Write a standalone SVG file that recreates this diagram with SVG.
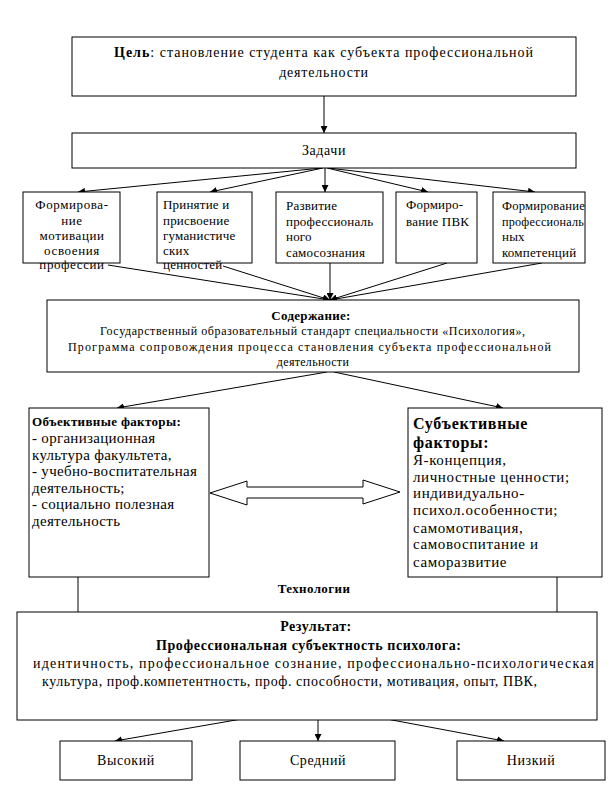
<svg xmlns="http://www.w3.org/2000/svg" width="613" height="793" viewBox="0 0 613 793">
<style>
.box{fill:#fff;stroke:#000;stroke-width:1}
.ln{stroke:#000;stroke-width:1;fill:none}
text{font-family:"Liberation Serif","Times New Roman",serif;fill:#000}
.task{font-size:13px;letter-spacing:0.2px}
.task1{font-size:13px;letter-spacing:0.6px;text-anchor:middle}
.obj{font-size:15px;letter-spacing:0.3px}
.subj{font-size:15px;letter-spacing:0.6px}
.lvl{font-size:14px;letter-spacing:0.6px;text-anchor:middle}
.b{font-weight:bold}
.c{text-anchor:middle}
</style>
<defs>
<marker id="ah" viewBox="0 0 10 10" refX="10" refY="5" markerWidth="7" markerHeight="7" markerUnits="userSpaceOnUse" orient="auto">
<path d="M0,0 L10,5 L0,10 z" fill="#000"/>
</marker>
</defs>
<rect width="613" height="793" fill="#fff"/>

<g id="connectors">
<line class="ln" x1="324" y1="96" x2="324" y2="133" marker-end="url(#ah)"/>
<line class="ln" x1="322" y1="168" x2="78" y2="192" marker-end="url(#ah)"/>
<line class="ln" x1="323" y1="168" x2="210" y2="192" marker-end="url(#ah)"/>
<line class="ln" x1="325" y1="168" x2="325" y2="192" marker-end="url(#ah)"/>
<line class="ln" x1="327" y1="168" x2="428" y2="192" marker-end="url(#ah)"/>
<line class="ln" x1="328" y1="168" x2="535" y2="192" marker-end="url(#ah)"/>
<line class="ln" x1="108" y1="265" x2="330" y2="300" marker-end="url(#ah)"/>
<line class="ln" x1="223" y1="266" x2="330" y2="300" marker-end="url(#ah)"/>
<line class="ln" x1="330" y1="263" x2="330" y2="300" marker-end="url(#ah)"/>
<line class="ln" x1="447" y1="263" x2="330" y2="300" marker-end="url(#ah)"/>
<line class="ln" x1="542" y1="263" x2="330" y2="300" marker-end="url(#ah)"/>
<line class="ln" x1="327" y1="372" x2="117" y2="408" marker-end="url(#ah)"/>
<line class="ln" x1="334" y1="372" x2="503" y2="408" marker-end="url(#ah)"/>
<polygon class="box" points="210,493 247,481 247,487 363,487 363,480 400,492 363,504 363,498 247,498 247,505"/>
<line class="ln" x1="78" y1="577" x2="78" y2="612"/>
<line class="ln" x1="557" y1="577" x2="557" y2="612"/>
<line class="ln" x1="318" y1="650" x2="318" y2="658" marker-end="url(#ah)"/>
<line class="ln" x1="318" y1="708" x2="318" y2="741" marker-end="url(#ah)"/>
<line class="ln" x1="305" y1="708" x2="115" y2="741" marker-end="url(#ah)"/>
<line class="ln" x1="328" y1="708" x2="504" y2="741" marker-end="url(#ah)"/>
</g>

<g id="goal">
<rect class="box" x="72" y="37" width="504" height="59"/>
<text font-size="14" x="114" y="57" textLength="419" lengthAdjust="spacing"><tspan class="b">Цель</tspan>: становление студента как субъекта профессиональной</text>
<text font-size="14" class="c" x="324" y="77" letter-spacing="0.8">деятельности</text>
</g>

<g id="tasks">
<rect class="box" x="72" y="133" width="504" height="35"/>
<text font-size="14" class="c" x="324" y="155" letter-spacing="0.6">Задачи</text>
</g>

<g id="task1">
<rect class="box" x="23" y="192" width="97" height="71"/>
<text class="task1" x="72" y="209">Формирова-</text>
<text class="task1" x="72" y="225">ние</text>
<text class="task1" x="72" y="240">мотивации</text>
<text class="task1" x="72" y="255">освоения</text>
<text class="task1" x="72" y="269">профессии</text>
</g>
<g id="task2">
<rect class="box" x="157" y="192" width="95" height="71"/>
<text class="task" x="163" y="209">Принятие и</text>
<text class="task" x="163" y="225">присвоение</text>
<text class="task" x="163" y="240">гуманистиче</text>
<text class="task" x="163" y="255">ских</text>
<text class="task" x="163" y="269">ценностей</text>
</g>
<g id="task3">
<rect class="box" x="276" y="192" width="107" height="71"/>
<text class="task" x="286" y="210">Развитие</text>
<text class="task" x="286" y="226">профессиональ</text>
<text class="task" x="286" y="241">ного</text>
<text class="task" x="286" y="257">самосознания</text>
</g>
<g id="task4">
<rect class="box" x="396" y="192" width="81" height="71"/>
<text class="task" x="406" y="209">Формиро-</text>
<text class="task" x="406" y="226">вание ПВК</text>
</g>
<g id="task5">
<rect class="box" x="493" y="192" width="92" height="71"/>
<text class="task" x="502" y="210" textLength="83" lengthAdjust="spacingAndGlyphs">Формирование</text>
<text class="task" x="502" y="226" textLength="82" lengthAdjust="spacingAndGlyphs">профессиональ</text>
<text class="task" x="502" y="241">ных</text>
<text class="task" x="502" y="257">компетенций</text>
</g>

<g id="content">
<rect class="box" x="47" y="300" width="532" height="72"/>
<text font-size="13" class="b c" x="311" y="320" letter-spacing="0.3">Содержание:</text>
<text font-size="12" x="100" y="335" textLength="425" lengthAdjust="spacing">Государственный образовательный стандарт специальности «Психология»,</text>
<text font-size="12" x="68" y="351" textLength="483" lengthAdjust="spacing">Программа  сопровождения  процесса становления  субъекта  профессиональной</text>
<text font-size="12" class="c" x="313" y="366" letter-spacing="0.3">деятельности</text>
</g>

<g id="objective">
<rect class="box" x="29" y="408" width="180" height="169"/>
<text font-size="13" class="b" x="32" y="426" letter-spacing="0.35">Объективные факторы:</text>
<text class="obj" x="32" y="443">- организационная</text>
<text class="obj" x="32" y="459.5">культура факультета,</text>
<text class="obj" x="32" y="476">- учебно-воспитательная</text>
<text class="obj" x="32" y="492.5">деятельность;</text>
<text class="obj" x="32" y="509">- социально полезная</text>
<text class="obj" x="32" y="526">деятельность</text>
</g>

<g id="subjective">
<rect class="box" x="408" y="408" width="194" height="169"/>
<text font-size="16" class="b" x="413" y="429" letter-spacing="0.7">Субъективные</text>
<text font-size="16" class="b" x="413" y="448" letter-spacing="0.7">факторы:</text>
<text class="subj" x="413" y="465">Я-концепция,</text>
<text class="subj" x="413" y="482">личностные ценности;</text>
<text class="subj" x="413" y="498">индивидуально-</text>
<text class="subj" x="413" y="515">психол.особенности;</text>
<text class="subj" x="413" y="533">самомотивация,</text>
<text class="subj" x="413" y="549">самовоспитание и</text>
<text class="subj" x="413" y="567">саморазвитие</text>
</g>

<g id="technologies">
<text font-size="13" class="b c" x="314" y="593" letter-spacing="0.4">Технологии</text>
</g>

<g id="result">
<rect class="box" x="17" y="612" width="580" height="108"/>
<text font-size="14" class="b c" x="316" y="631" letter-spacing="0.5">Результат:</text>
<text font-size="14" class="b" x="156" y="650" textLength="305" lengthAdjust="spacing">Профессиональная субъектность психолога:</text>
<text font-size="14" x="33" y="668" textLength="561" lengthAdjust="spacing">идентичность, профессиональное сознание, профессионально-психологическая</text>
<text font-size="14" x="42" y="686" textLength="495" lengthAdjust="spacing">культура, проф.компетентность,  проф. способности, мотивация, опыт, ПВК,</text>
</g>

<g id="high">
<rect class="box" x="60" y="741" width="132" height="39"/>
<text class="lvl" x="126" y="765">Высокий</text>
</g>
<g id="medium">
<rect class="box" x="240" y="741" width="155" height="39"/>
<text class="lvl" x="318" y="765">Средний</text>
</g>
<g id="low">
<rect class="box" x="457" y="741" width="148" height="39"/>
<text class="lvl" x="531" y="765">Низкий</text>
</g>
</svg>
